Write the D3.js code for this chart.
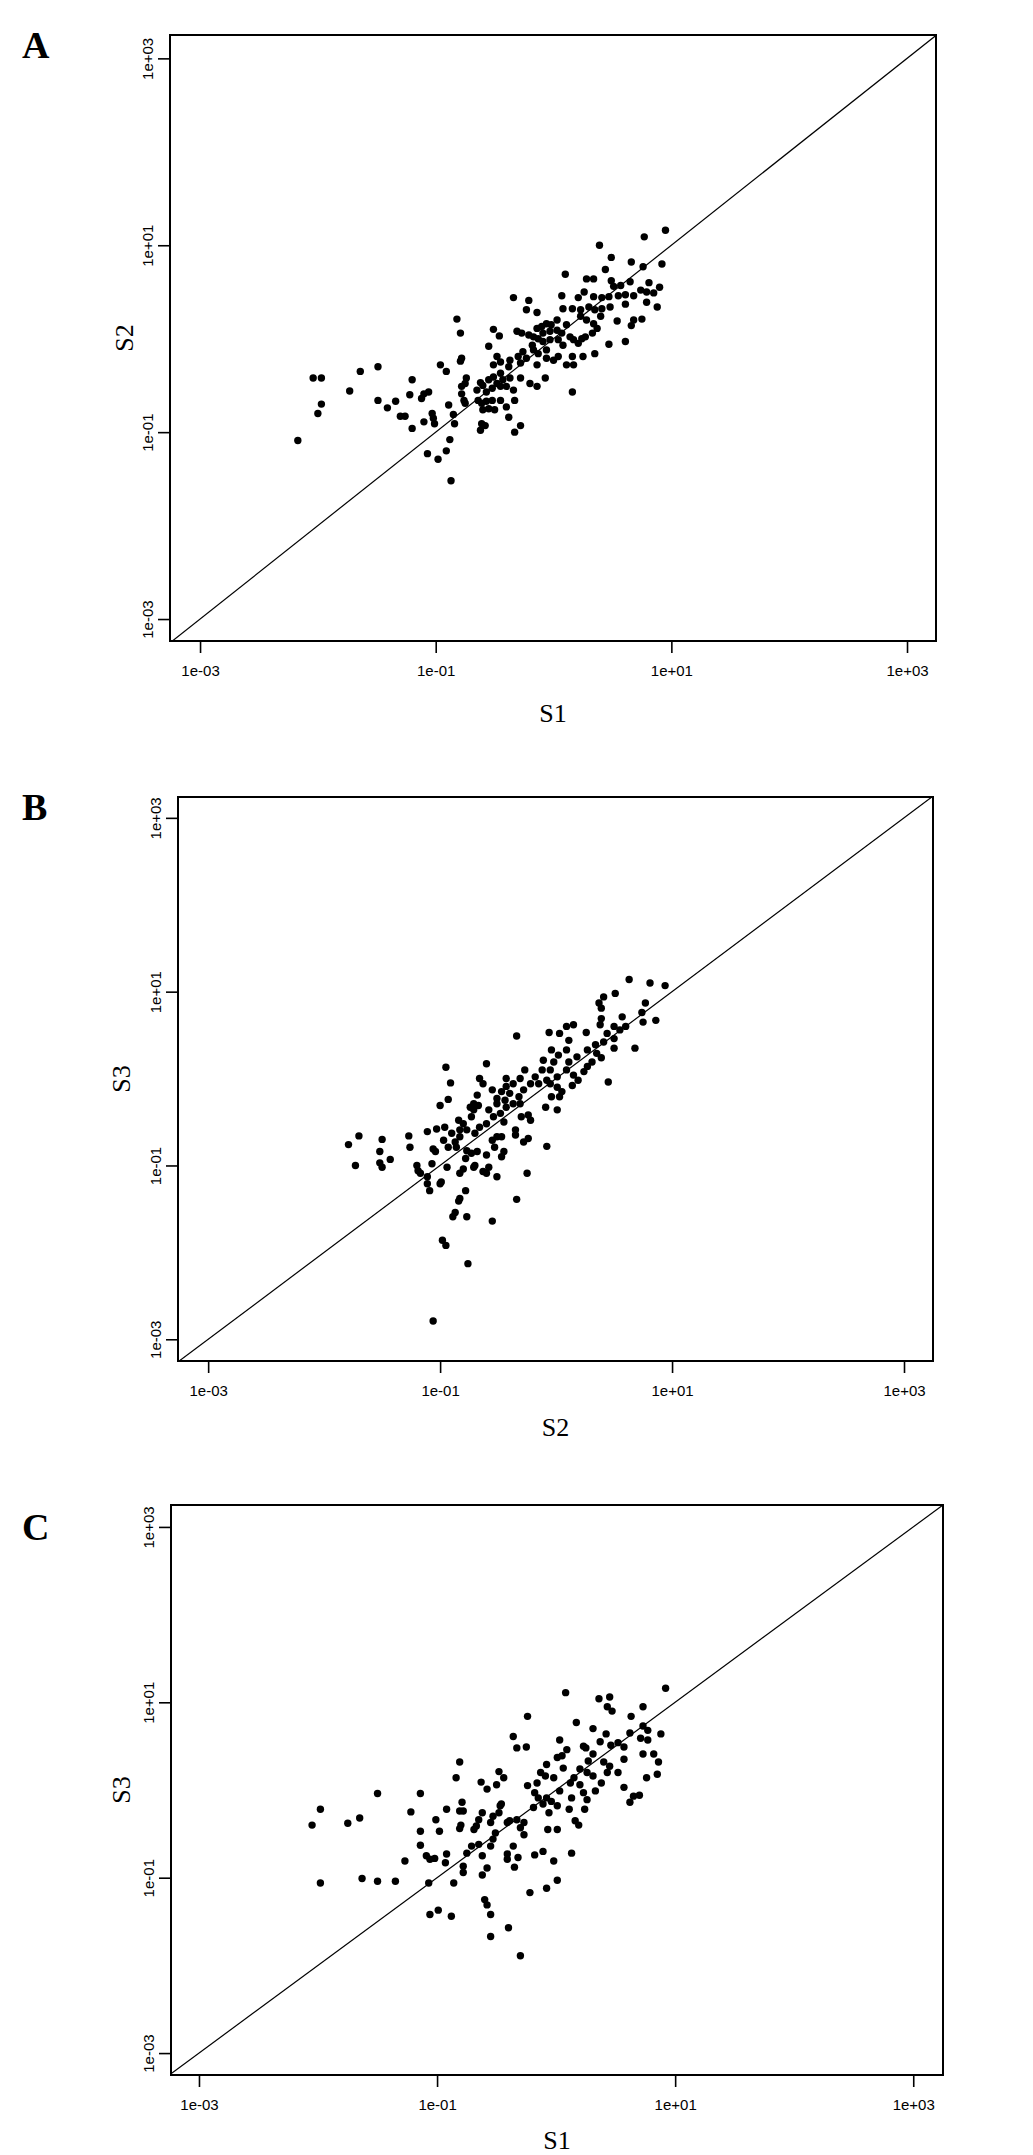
<!DOCTYPE html>
<html>
<head>
<meta charset="utf-8">
<script src="https://cdn.jsdelivr.net/npm/d3@7"></script>
<style>
  body { margin: 0; background: #fff; }
</style>
</head>
<body>
<div id="plot"></div>
<script>
// Axis ticks shared by all three panels
const tickValues = [1e-3, 1e-1, 1e1, 1e3];
const tickLabels = ["1e-03", "1e-01", "1e+01", "1e+03"];

// Values are stored as log10 of the expression levels
// Panel A: S1 vs S2
const aS1 = [
  0.95,0.77,0.39,0.49,0.92,0.66,0.76,0.44,0.10,0.28,
  0.34,0.49,0.65,0.57,0.51,0.81,0.90,0.74,0.79,0.85,
  0.68,0.61,0.55,0.47,0.41,0.34,0.26,0.21,0.07,-0.34,
  -0.21,-0.23,-0.14,0.08,0.16,0.23,0.30,0.35,0.41,0.48,
  0.61,0.79,0.88,0.40,0.54,0.68,0.75,0.66,0.23,0.28,
  0.34,0.37,0.33,0.27,0.24,0.17,0.21,0.14,0.03,-0.02,
  -0.06,-0.10,-0.14,-0.09,-0.03,0.03,0.07,0.11,-0.31,-0.27,
  -0.21,-0.17,-0.13,-0.09,-0.03,0.04,0.08,-0.18,-0.17,-0.13,
  -0.06,-0.06,0.00,0.04,0.16,0.11,0.17,0.25,0.35,0.47,
  0.61,-0.14,-0.23,-0.30,-0.26,-0.28,-0.37,-0.38,-0.45,-0.48,
  -0.51,-0.55,-0.51,-0.46,-0.82,-0.79,-0.78,-0.79,-0.96,-0.91,
  -0.74,-0.75,-0.78,-0.62,-0.60,-0.55,-0.51,-0.45,-0.43,-0.48,
  -0.52,-0.57,-0.45,-0.40,-0.37,-0.28,-0.20,-0.14,-0.07,0.16,
  -0.78,-0.76,-0.75,-0.64,-0.61,-0.57,-0.52,-0.45,-0.40,-0.33,
  -0.60,-0.55,-0.50,-0.38,-0.61,-0.58,-0.62,-0.28,-0.33,-0.89,
  -0.85,-0.84,-0.88,-0.91,-0.98,-1.07,-0.87,-1.01,-1.02,-1.03,
  -1.10,-1.20,-1.06,-1.10,-1.12,-1.22,-1.20,-1.30,-1.26,-1.34,
  -1.41,-1.49,-1.49,-1.64,-1.73,-2.04,-1.97,-1.97,-2.00,-2.17,
  -0.65,-0.34
];
const aS2 = [
  1.16,1.09,1.00,0.87,0.80,0.82,0.77,0.74,0.69,0.64,
  0.64,0.62,0.61,0.57,0.56,0.60,0.55,0.52,0.50,0.49,
  0.46,0.47,0.46,0.45,0.44,0.45,0.50,0.44,0.46,0.44,
  0.41,0.31,0.28,0.32,0.32,0.31,0.34,0.31,0.32,0.34,
  0.37,0.39,0.34,0.24,0.19,0.20,0.21,0.14,0.24,0.20,
  0.16,0.11,0.06,0.02,0.00,-0.01,-0.05,0.02,0.20,0.15,
  0.16,0.13,0.11,0.06,0.08,0.09,0.06,0.15,0.08,0.06,
  0.04,0.02,0.00,-0.03,-0.01,-0.01,-0.07,-0.07,-0.12,-0.16,
  -0.12,-0.21,-0.23,-0.19,-0.19,-0.28,-0.28,-0.19,-0.16,-0.06,
  -0.03,-0.28,-0.21,-0.19,-0.14,-0.26,-0.23,-0.30,-0.25,-0.19,
  -0.28,-0.08,0.10,0.03,0.21,0.06,-0.21,-0.24,-0.28,-0.35,
  -0.42,-0.48,-0.51,-0.47,-0.50,-0.44,-0.41,-0.37,-0.44,-0.48,
  -0.53,-0.57,-0.51,-0.51,-0.42,-0.42,-0.48,-0.51,-0.42,-0.57,
  -0.59,-0.66,-0.69,-0.66,-0.69,-0.67,-0.66,-0.66,-0.73,-0.66,
  -0.76,-0.75,-0.76,-0.84,-0.91,-0.93,-0.98,-0.93,-1.00,-0.71,
  -0.81,-0.91,-1.08,-1.20,-1.29,-1.23,-1.52,-0.91,-0.85,-0.80,
  -0.89,-0.96,-0.57,-0.59,-0.64,-0.60,-0.44,-0.83,-0.83,-0.67,
  -0.74,-0.66,-0.30,-0.35,-0.56,-0.42,-0.42,-0.70,-0.80,-1.09,
  -0.55,-0.55
];

// Panel B: S2 vs S3
const bS2 = [
  0.63,0.81,0.94,0.51,0.41,0.37,0.39,0.77,0.74,0.86,
  0.75,0.57,0.39,0.38,0.50,0.55,0.44,0.50,0.41,0.60,
  0.68,0.50,0.34,0.27,0.35,0.39,0.31,0.27,0.24,0.15,
  0.19,0.14,0.09,0.11,0.18,0.09,0.11,0.15,0.09,0.03,
  -0.06,0.26,-0.04,0.02,-0.02,-0.11,-0.12,-0.05,0.01,-0.05,
  0.01,0.05,0.03,-0.04,0.01,-0.09,0.45,-0.34,-0.08,-0.15,
  -0.18,-0.22,-0.27,-0.31,-0.37,-0.43,-0.28,-0.32,-0.40,-0.44,
  -0.51,-0.55,-0.60,-0.66,-0.63,-0.68,-0.74,-0.71,-0.73,-0.80,
  -0.84,-0.83,-0.77,-0.70,-0.66,-0.60,-0.54,-0.48,-0.45,-0.43,
  -0.37,-0.31,-0.30,-0.24,-0.22,-0.35,-0.35,-0.47,-0.51,-0.55,
  -0.53,-0.45,-0.47,-0.24,-0.28,-0.08,-0.60,-0.68,-0.73,-0.77,
  -0.78,-0.70,-0.71,-0.80,-0.83,-0.58,-0.60,-0.63,-0.51,-0.25,
  -0.34,-0.78,-0.83,-0.84,-0.87,-0.89,-0.77,-0.55,-0.98,-0.95,
  -0.76,-1.06,-0.95,-0.91,-0.93,-1.00,-1.03,-0.96,-0.90,-0.97,
  -0.93,-0.87,-0.86,-0.83,-1.11,-1.06,-1.04,-1.07,-0.94,-1.20,
  -1.19,-1.17,-1.11,-1.11,-1.09,-1.00,-0.99,-1.27,-1.26,-1.50,
  -1.52,-1.52,-1.50,-1.43,-1.70,-1.79,-1.73,-0.67,-0.71,-0.58,
  -0.51,-0.47,-0.43
];
const bS3 = [
  1.14,1.10,1.07,0.98,0.94,0.87,0.81,0.87,0.76,0.67,
  0.65,0.71,0.69,0.62,0.60,0.56,0.52,0.46,0.42,0.60,
  0.35,0.35,0.39,0.33,0.29,0.24,0.19,0.14,0.08,0.04,
  -0.02,-0.08,0.10,0.19,0.25,0.33,0.44,0.62,0.60,0.52,
  0.53,0.53,0.33,0.27,0.19,0.21,0.10,0.10,0.02,-0.06,
  -0.10,-0.15,-0.21,-0.21,-0.36,-0.33,-0.04,0.49,-0.02,-0.06,
  0.02,-0.06,0.10,0.00,-0.06,0.00,-0.13,-0.21,-0.17,-0.25,
  -0.23,-0.13,0.17,0.00,-0.06,-0.19,-0.33,-0.36,-0.44,-0.52,
  -0.48,-0.59,-0.59,-0.63,-0.56,-0.52,-0.44,-0.40,-0.50,-0.33,
  -0.29,-0.29,-0.44,-0.42,-0.48,-0.59,-0.65,-0.67,-0.67,-0.71,
  -0.79,-0.84,-0.90,-0.69,-0.73,-0.78,-0.88,-0.84,-0.86,-0.83,
  -0.92,-1.00,-1.02,-1.04,-1.09,-1.02,-1.09,-1.07,-1.13,-1.09,
  -1.39,-1.29,-1.38,-1.41,-1.54,-1.59,-1.59,-1.64,-1.86,-1.92,
  -2.13,-2.79,0.13,-0.05,-0.24,-0.31,-0.58,-0.56,-0.63,-0.71,
  -0.79,-0.73,-0.79,-0.67,-0.61,-0.81,-0.84,-0.98,-1.02,-1.00,
  -1.06,-1.09,-1.13,-1.21,-1.29,-1.21,-1.19,-0.66,-0.79,-0.70,
  -0.84,-0.97,-1.02,-0.93,-0.66,-0.76,-1.00,-0.31,-0.29,-0.36,
  -0.29,-0.15,-0.09
];

// Panel C: S1 vs S3
const cS1 = [
  0.92,0.08,0.36,0.45,0.43,0.47,0.73,0.63,-0.24,0.17,
  0.31,0.73,0.77,0.88,0.62,0.71,0.77,0.42,0.37,0.46,
  0.52,0.57,0.03,0.09,0.23,0.25,-0.36,-0.33,-0.25,0.73,
  0.82,0.57,0.86,0.85,0.76,0.31,0.27,0.40,0.45,0.43,
  0.52,0.20,0.26,0.31,0.15,0.12,0.20,0.23,0.26,0.38,
  0.33,0.57,0.65,0.70,0.62,0.01,0.05,0.06,-0.08,-0.13,
  -0.09,-0.02,-0.16,-0.24,-0.18,-0.15,-0.08,-0.04,-0.11,-0.06,
  0.01,-0.19,0.03,0.13,0.11,0.24,0.16,0.19,-0.07,0.01,
  0.13,-0.11,-0.18,-0.02,0.01,-0.08,-0.22,-0.81,-0.84,-0.63,
  -0.58,-0.48,-0.44,-0.50,-0.79,-0.81,-0.78,-0.92,-1.01,-0.98,
  -1.14,-1.22,-1.14,-1.14,-1.09,-1.06,-1.02,-0.92,-0.93,-1.27,
  -0.80,-0.81,-0.69,-0.67,-0.62,-0.65,-0.55,-0.53,-0.48,-0.47,
  -0.46,-0.41,-0.39,-0.33,-0.27,-0.30,-0.27,-0.36,-0.41,-0.41,
  -0.32,-0.35,-0.75,-0.71,-0.65,-0.62,-0.55,-0.53,-0.51,-0.58,
  -0.62,-0.78,-0.78,-0.86,-1.07,-1.35,-1.50,-1.63,-1.98,-2.05,
  -1.98,-1.75,-1.65,-1.50,-0.60,-0.58,-0.55,-1.06,-0.99,-0.88,
  -0.40,-0.55,-0.30
];
const cS3 = [
  1.16,1.11,1.04,1.06,0.95,0.90,0.95,0.84,0.84,0.77,
  0.70,0.73,0.68,0.64,0.65,0.59,0.57,0.64,0.55,0.51,
  0.54,0.49,0.57,0.46,0.50,0.48,0.61,0.48,0.49,0.41,
  0.41,0.35,0.32,0.18,0.14,0.41,0.33,0.32,0.27,0.20,
  0.20,0.24,0.20,0.16,0.14,0.08,0.06,-0.03,-0.11,0.08,
  -0.01,0.03,-0.07,-0.06,-0.14,0.37,0.39,0.25,0.29,0.20,
  0.16,0.14,0.08,0.05,-0.03,-0.09,-0.09,-0.13,-0.16,-0.26,
  -0.18,-0.20,-0.01,-0.09,-0.22,-0.22,-0.35,-0.40,-0.45,-0.45,
  -0.72,-0.70,-0.74,-0.81,-1.03,-1.12,-1.17,0.32,0.14,0.09,
  0.01,0.21,0.14,0.06,-0.14,-0.24,-0.24,-0.22,-0.34,-0.47,
  -0.04,-0.25,-0.47,-0.63,-0.75,-0.79,-0.78,-0.73,-0.83,-0.81,
  -0.40,-0.44,-0.45,-0.41,-0.26,-0.34,-0.37,-0.30,-0.26,-0.18,
  -0.16,-0.37,-0.35,-0.34,-0.37,-0.43,-0.51,-0.64,-0.73,-0.79,
  -0.77,-0.88,-0.72,-0.64,-0.62,-0.75,-0.64,-0.56,-0.49,-0.89,
  -0.97,-0.87,-0.94,-1.06,-1.06,-1.04,-1.04,-1.01,-1.06,-0.40,
  -0.22,-0.38,-0.32,-0.04,-1.25,-1.31,-1.42,-1.42,-1.37,-1.44,
  -1.57,-1.67,-1.89
];

const width = 1033;
const height = 2155;

const svg = d3.select("#plot").append("svg")
  .attr("width", width)
  .attr("height", height)
  .style("background-color", "white");

// Layout of each panel (pixel box and axis limits in log10 units)
const panels = [
  { letter: "A", xs: aS1, ys: aS2, xTitle: "S1", yTitle: "S2",
    left: 170, right: 936, top: 35, bottom: 641,
    xLim: [-3.255, 3.246], yLim: [-3.235, 3.25],
    letterY: 58, xTitleY: 713, yTitleX: 124 },
  { letter: "B", xs: bS2, ys: bS3, xTitle: "S2", yTitle: "S3",
    left: 178, right: 933, top: 797, bottom: 1361,
    xLim: [-3.26, 3.25], yLim: [-3.25, 3.24],
    letterY: 820, xTitleY: 1427, yTitleX: 121 },
  { letter: "C", xs: cS1, ys: cS3, xTitle: "S1", yTitle: "S3",
    left: 171, right: 943, top: 1505, bottom: 2075,
    xLim: [-3.235, 3.25], yLim: [-3.25, 3.25],
    letterY: 1540, xTitleY: 2140, yTitleX: 121 }
];

panels.forEach((p, k) => {
  const g = svg.append("g");

  const x = d3.scaleLog()
    .domain([10 ** p.xLim[0], 10 ** p.xLim[1]])
    .range([p.left, p.right]);
  const y = d3.scaleLog()
    .domain([10 ** p.yLim[0], 10 ** p.yLim[1]])
    .range([p.bottom, p.top]);

  // clip for the identity line
  const clipId = "clip" + k;
  g.append("clipPath").attr("id", clipId)
    .append("rect")
    .attr("x", p.left).attr("y", p.top)
    .attr("width", p.right - p.left).attr("height", p.bottom - p.top);

  // y = x reference line
  g.append("line")
    .attr("clip-path", `url(#${clipId})`)
    .attr("x1", x(1e-4)).attr("y1", y(1e-4))
    .attr("x2", x(1e4)).attr("y2", y(1e4))
    .attr("stroke", "#000")
    .attr("stroke-width", 1.2);

  // points
  const pts = p.xs.map((v, i) => ({ x: 10 ** v, y: 10 ** p.ys[i] }));
  g.selectAll("circle")
    .data(pts)
    .enter()
    .append("circle")
    .attr("cx", d => x(d.x))
    .attr("cy", d => y(d.y))
    .attr("r", 3.7)
    .attr("fill", "#000");

  // x axis
  const xAxis = d3.axisBottom(x)
    .tickValues(tickValues)
    .tickFormat((d, i) => tickLabels[i])
    .tickSize(12)
    .tickSizeOuter(0)
    .tickPadding(12);
  const xg = g.append("g")
    .attr("transform", `translate(0,${p.bottom})`)
    .call(xAxis);
  xg.select(".domain").remove();
  xg.selectAll(".tick line").attr("stroke", "#000").attr("stroke-width", 1.6);
  xg.selectAll(".tick text")
    .attr("fill", "#000")
    .style("font-family", "'Liberation Sans', Arial, sans-serif")
    .style("font-size", "15px");

  // y axis with rotated labels
  const yAxis = d3.axisLeft(y)
    .tickValues(tickValues)
    .tickFormat((d, i) => tickLabels[i])
    .tickSize(12)
    .tickSizeOuter(0);
  const yg = g.append("g")
    .attr("transform", `translate(${p.left},0)`)
    .call(yAxis);
  yg.select(".domain").remove();
  yg.selectAll(".tick line").attr("stroke", "#000").attr("stroke-width", 1.6);
  yg.selectAll(".tick text")
    .attr("x", null)
    .attr("dy", null)
    .attr("fill", "#000")
    .attr("text-anchor", "middle")
    .attr("dominant-baseline", "central")
    .attr("transform", "translate(-23,0) rotate(-90)")
    .style("font-family", "'Liberation Sans', Arial, sans-serif")
    .style("font-size", "15px");

  // plot box
  g.append("rect")
    .attr("x", p.left).attr("y", p.top)
    .attr("width", p.right - p.left).attr("height", p.bottom - p.top)
    .attr("fill", "none")
    .attr("stroke", "#000")
    .attr("stroke-width", 2);

  // axis titles
  g.append("text")
    .attr("x", (p.left + p.right) / 2)
    .attr("y", p.xTitleY)
    .attr("text-anchor", "middle")
    .attr("dominant-baseline", "central")
    .style("font-family", "'Liberation Serif', 'Times New Roman', serif")
    .style("font-size", "26px")
    .text(p.xTitle);

  g.append("text")
    .attr("transform", `translate(${p.yTitleX},${(p.top + p.bottom) / 2}) rotate(-90)`)
    .attr("text-anchor", "middle")
    .attr("dominant-baseline", "central")
    .style("font-family", "'Liberation Serif', 'Times New Roman', serif")
    .style("font-size", "26px")
    .text(p.yTitle);

  // panel letter
  g.append("text")
    .attr("x", 22)
    .attr("y", p.letterY)
    .style("font-family", "'Liberation Serif', 'Times New Roman', serif")
    .style("font-weight", "bold")
    .style("font-size", "38px")
    .text(p.letter);
});
</script>
</body>
</html>
